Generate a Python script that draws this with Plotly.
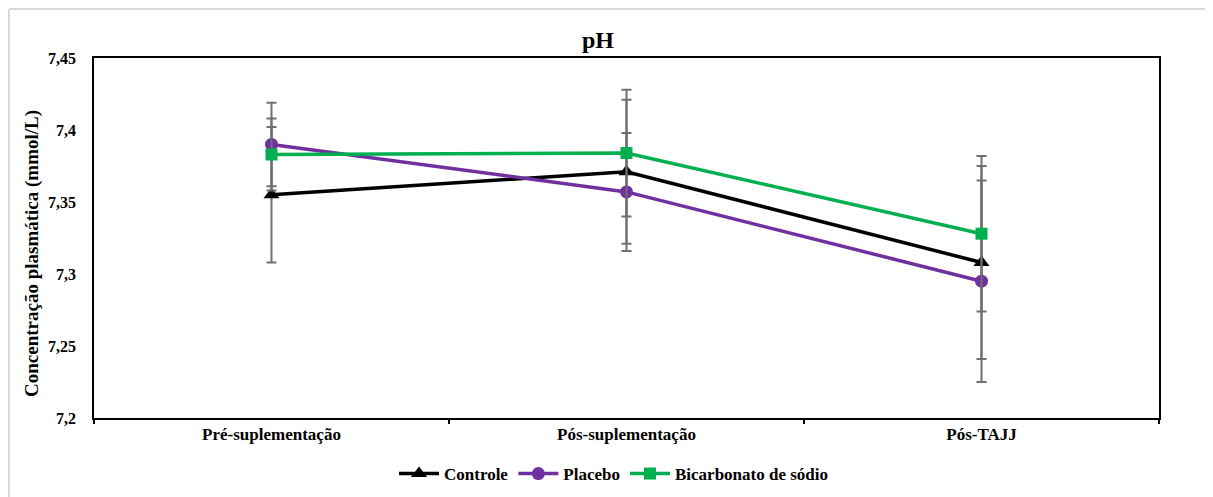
import plotly.graph_objects as go

categories = ["Pré-suplementação", "Pós-suplementação", "Pós-TAJJ"]
controle = [7.355, 7.371, 7.308]
controle_err = [0.047, 0.050, 0.067]
placebo = [7.390, 7.357, 7.295]
placebo_err = [0.029, 0.041, 0.070]
bicarbonato = [7.383, 7.384, 7.328]
bicarbonato_err = [0.025, 0.044, 0.054]
y_ticks = [7.2, 7.25, 7.3, 7.35, 7.4, 7.45]
y_tick_labels = ["7,2", "7,25", "7,3", "7,35", "7,4", "7,45"]

FONT = "Liberation Serif, Times New Roman, serif"
OFF = 8  # default page body margin
W, H = 1213, 497
# plot area in page pixels: x 94..1159, y 58..418
L = 94 - OFF
T = 58 - OFF
R = W - (1159 - OFF)
B = H - (418 - OFF)

fig = go.Figure()

series = [
    ("Controle", controle, controle_err, "#000000", "triangle-up", 14),
    ("Placebo", placebo, placebo_err, "#7030a0", "circle", 13),
    ("Bicarbonato de sódio", bicarbonato, bicarbonato_err, "#00b050", "square", 12),
]
for name, vals, errs, color, sym, size in series:
    fig.add_trace(go.Scatter(
        x=categories, y=vals, name="<b>" + name + "</b>", mode="lines+markers",
        line=dict(color=color, width=3.5),
        marker=dict(symbol=sym, size=size, color=color),
        error_y=dict(type="data", array=errs, visible=True,
                     color="#6f6f6f", thickness=2, width=5),
    ))

pw = W - L - R
ph = H - T - B
def px_x(px):  # page px -> paper
    return (px - OFF - L) / pw
def px_y(py):
    return (H - B - (py - OFF)) / ph

# chart-area border (left and top visible)
fig.add_shape(type="line", xref="paper", yref="paper",
              x0=px_x(9), x1=px_x(1225), y0=px_y(9), y1=px_y(9),
              line=dict(color="#d9d9d9", width=2))
fig.add_shape(type="line", xref="paper", yref="paper",
              x0=px_x(9), x1=px_x(9), y0=px_y(9), y1=px_y(510),
              line=dict(color="#d9d9d9", width=2))

fig.add_annotation(text="<b>Concentração plasmática (mmol/L)</b>",
                   xref="paper", yref="paper", x=px_x(32), y=px_y(254),
                   textangle=-90, showarrow=False,
                   xanchor="center", yanchor="middle",
                   font=dict(family=FONT, size=19, color="#000000"))

fig.update_layout(
    width=W, height=H,
    margin=dict(l=L, r=R, t=T, b=B, autoexpand=False),
    paper_bgcolor="white", plot_bgcolor="white",
    title=dict(text="<b>pH</b>", x=(598 - OFF) / W, xanchor="center",
               y=1 - (40 - OFF) / H, yanchor="middle",
               font=dict(family=FONT, size=24, color="#000000")),
    font=dict(family=FONT, color="#000000"),
    showlegend=True,
    legend=dict(orientation="h", x=px_x(614), xanchor="center",
                y=px_y(474), yanchor="middle",
                font=dict(family=FONT, size=17, color="#000000"),
                itemwidth=40, tracegroupgap=0),
    xaxis=dict(type="category", range=[-0.5, 2.5], automargin=False,
               showline=True, linecolor="#000000", linewidth=2, mirror=True,
               ticks="outside", tickson="boundaries", ticklen=4,
               tickcolor="#000000", tickwidth=2,
               showgrid=False, zeroline=False,
               tickfont=dict(family=FONT, size=17, color="#000000"),
               tickprefix="<b>", ticksuffix="</b>"),
    yaxis=dict(range=[7.2, 7.45], tickvals=y_ticks, automargin=False,
               ticktext=["<b>" + t + "</b>" for t in y_tick_labels],
               showline=True, linecolor="#000000", linewidth=1.5, mirror=True,
               ticks="", showgrid=False, zeroline=False,
               ticklabelstandoff=13,
               tickfont=dict(family=FONT, size=16, color="#000000")),
)

fig.write_html("out.html")
